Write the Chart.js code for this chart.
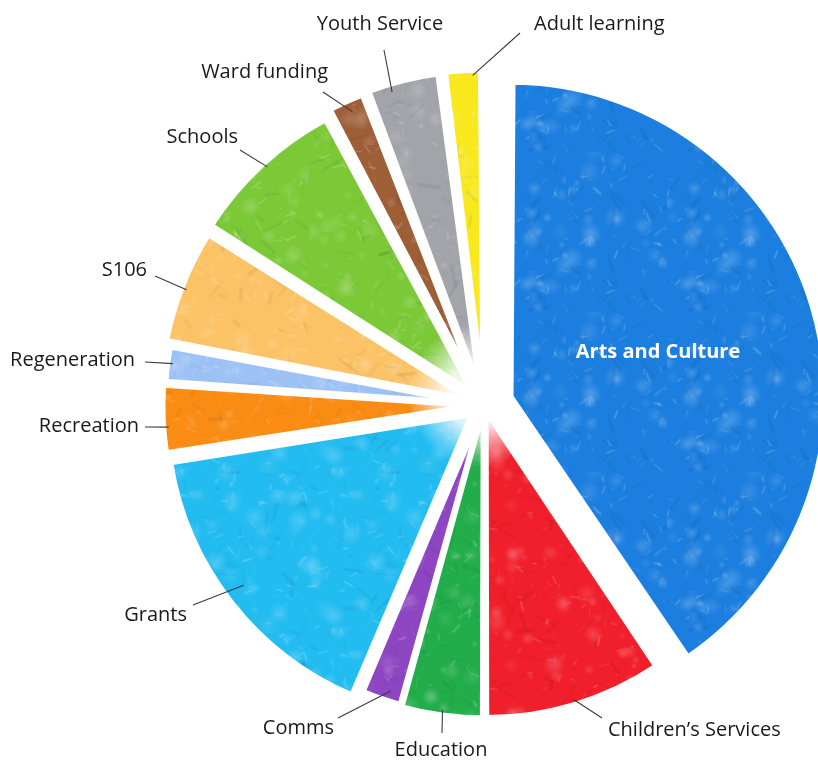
<!DOCTYPE html>
<html>
<head>
<meta charset="utf-8">
<title>Spending by area</title>
<script src="https://cdn.jsdelivr.net/npm/chart.js@4.4.1/dist/chart.umd.min.js"></script>
<style>
  html, body { margin: 0; padding: 0; background: #fff; }
  #wrap { position: relative; width: 818px; height: 761px; }
</style>
</head>
<body>
<div id="wrap"><canvas id="spendPie"></canvas></div>
<script>
// share of spend per area, clockwise from 12 o'clock (percent)
const categories = ['Arts and Culture', 'Children\u2019s Services', 'Education', 'Comms', 'Grants',
  'Recreation', 'Regeneration', 'S106', 'Schools', 'Ward funding', 'Youth Service', 'Adult learning'];
const shares = [40.6, 9.4, 4.3, 2.1, 16.1, 3.6, 1.9, 6.0, 8.2, 2.0, 3.8, 2.0];
const sliceColors = ['#1c7fdf', '#f11e2b', '#22ad4a', '#8e45c2', '#22bcf1',
  '#fa8c14', '#9cc2f5', '#fcc366', '#7cc937', '#9e5f37', '#a2a4aa', '#f8e81c'];
// Chart.js arc offset per slice (moves a slice out by offset/4)
const sliceOffsets = [113, 30, 25, 19, 64, 43, 36, 54, 66, 66, 73, 70];

// where each label sits: at = position across the slice (0..1) where the leader line starts,
// inset = how far inside the rim it starts, end = outer end of the line, tx/ty = text anchor
const labelLayout = [
  { inside: true, tx: 658, ty: 352 },
  { at: 0.5,  inset: 5,  end: [602, 718], tx: 608, ty: 730, align: 'left' },
  { at: 0.5,  inset: 5,  end: [442, 733], tx: 441, ty: 750, align: 'center' },
  { at: 0.34, inset: 10, end: [338, 718], tx: 334, ty: 728, align: 'right' },
  { at: 0.52, inset: 20, end: [193, 605], tx: 187, ty: 615, align: 'right' },
  { at: 0.38, inset: 5,  end: [145, 427], tx: 139, ty: 426, align: 'right' },
  { at: 0.53, inset: 5,  end: [145, 362], tx: 135, ty: 360, align: 'right' },
  { at: 0.48, inset: 5,  end: [155, 276], tx: 147, ty: 270, align: 'right' },
  { at: 0.52, inset: 5,  end: [240, 150], tx: 238, ty: 137, align: 'right' },
  { at: 0.54, inset: 11, end: [323, 92],  tx: 328, ty: 72,  align: 'right' },
  { at: 0.32, inset: 8,  end: [384, 50],  tx: 380, ty: 24,  align: 'center' },
  { at: 0.74, inset: 5,  end: [520, 33],  tx: 534, ty: 24,  align: 'left' }
];

// crayon-like mottled texture over a flat colour
function crayonFill(hex, seed) {
  const size = 160;
  const c = document.createElement('canvas');
  c.width = c.height = size;
  const g = c.getContext('2d');
  g.fillStyle = hex;
  g.fillRect(0, 0, size, size);
  let s = seed;
  const rnd = () => { s = (s * 16807) % 2147483647; return s / 2147483647; };
  g.lineCap = 'round';
  // pale blotches where the paper shows through
  for (let i = 0; i < 40; i++) {
    const x = rnd() * size, y = rnd() * size, r = 3 + rnd() * 9;
    const grd = g.createRadialGradient(x, y, 0, x, y, r);
    grd.addColorStop(0, 'rgba(255,255,255,' + (0.08 + rnd() * 0.12).toFixed(2) + ')');
    grd.addColorStop(1, 'rgba(255,255,255,0)');
    g.fillStyle = grd;
    g.fillRect(x - r, y - r, r * 2, r * 2);
  }
  // short light strokes
  for (let i = 0; i < 90; i++) {
    const x = rnd() * size, y = rnd() * size;
    const len = 2 + rnd() * 8, a = rnd() * Math.PI;
    g.strokeStyle = 'rgba(255,255,255,' + (0.05 + rnd() * 0.16).toFixed(2) + ')';
    g.lineWidth = 0.8 + rnd() * 1.5;
    g.beginPath();
    g.moveTo(x, y);
    g.lineTo(x + Math.cos(a) * len, y + Math.sin(a) * len);
    g.stroke();
  }
  // a few denser waxy strokes
  for (let i = 0; i < 40; i++) {
    const x = rnd() * size, y = rnd() * size;
    const len = 6 + rnd() * 14, a = rnd() * Math.PI;
    g.strokeStyle = 'rgba(0,0,40,' + (0.02 + rnd() * 0.04).toFixed(2) + ')';
    g.lineWidth = 1.5 + rnd() * 2.5;
    g.beginPath();
    g.moveTo(x, y);
    g.lineTo(x + Math.cos(a) * len, y + Math.sin(a) * len);
    g.stroke();
  }
  return g.createPattern(c, 'repeat');
}

const fills = sliceColors.map((col, i) => crayonFill(col, 1234 + i * 977));

// where Chart.js actually draws an offset arc: shifted by offset/4, rim pushed out a little more
function arcShape(arc) {
  const t = (arc.options.offset || 0) / 4;
  const circ = arc.endAngle - arc.startAngle;
  const fix = 1 - Math.sin(Math.min(Math.PI, circ));
  const mid = (arc.startAngle + arc.endAngle) / 2;
  return {
    cx: arc.x + Math.cos(mid) * t,
    cy: arc.y + Math.sin(mid) * t,
    r: arc.outerRadius + t * fix
  };
}

// soft white wash over the middle where the slices meet
const centreGlow = {
  id: 'centreGlow',
  afterDatasetsDraw(chart) {
    const arts = chart.getDatasetMeta(0).data[0];
    if (!arts) return;
    const ctx = chart.ctx;
    const cx = arts.x - 4, cy = arts.y - 10;
    const edge = arcShape(arts).cx;
    ctx.save();
    ctx.beginPath();
    ctx.rect(0, 0, edge, chart.height);
    ctx.clip();
    const grd = ctx.createRadialGradient(cx, cy, 0, cx, cy, 72);
    grd.addColorStop(0, 'rgba(255,255,255,1)');
    grd.addColorStop(0.45, 'rgba(255,255,255,0.85)');
    grd.addColorStop(1, 'rgba(255,255,255,0)');
    ctx.fillStyle = grd;
    ctx.beginPath();
    ctx.arc(cx, cy, 72, 0, Math.PI * 2);
    ctx.fill();
    ctx.restore();
  }
};

// category names with thin leader lines
const sliceLabels = {
  id: 'sliceLabels',
  afterDraw(chart) {
    const ctx = chart.ctx;
    const arcs = chart.getDatasetMeta(0).data;
    ctx.save();
    ctx.textBaseline = 'middle';
    arcs.forEach((arc, i) => {
      const lay = labelLayout[i];
      if (!lay) return;
      if (lay.inside) {
        ctx.font = 'bold 20px "Open Sans", sans-serif';
        ctx.fillStyle = '#ffffff';
        ctx.textAlign = 'center';
        ctx.fillText(categories[i], lay.tx, lay.ty);
        return;
      }
      const shape = arcShape(arc);
      const ang = arc.startAngle + (arc.endAngle - arc.startAngle) * lay.at;
      const r = shape.r - lay.inset;
      ctx.strokeStyle = '#3a3a3a';
      ctx.lineWidth = 1.1;
      ctx.beginPath();
      ctx.moveTo(shape.cx + Math.cos(ang) * r, shape.cy + Math.sin(ang) * r);
      ctx.lineTo(lay.end[0], lay.end[1]);
      ctx.stroke();
      ctx.font = '20px "Open Sans", sans-serif';
      ctx.fillStyle = '#1a1a1a';
      ctx.textAlign = lay.align;
      ctx.fillText(categories[i], lay.tx, lay.ty);
    });
    ctx.restore();
  }
};

new Chart(document.getElementById('spendPie'), {
  type: 'pie',
  data: {
    labels: categories,
    datasets: [{
      data: shares,
      backgroundColor: fills,
      borderColor: '#ffffff',
      borderWidth: 5,
      offset: sliceOffsets,
      hoverOffset: 0,
      radius: 302
    }]
  },
  options: {
    responsive: true,
    maintainAspectRatio: false,
    animation: false,
    layout: { padding: { left: 150, right: 0, top: 49, bottom: 0 } },
    plugins: {
      legend: { display: false },
      tooltip: { enabled: false }
    }
  },
  plugins: [centreGlow, sliceLabels]
});
</script>
</body>
</html>
